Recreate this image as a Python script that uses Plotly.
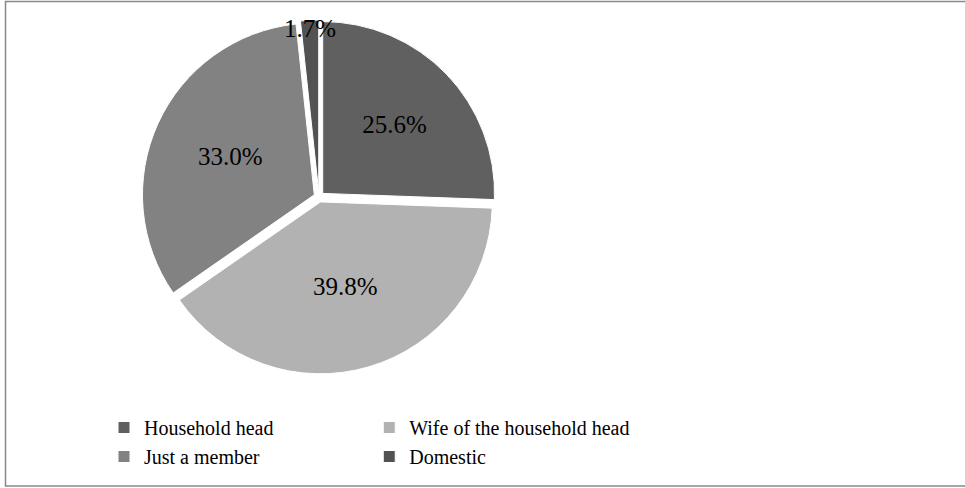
import plotly.graph_objects as go

# Household position of respondents (percent)
labels = ["Household head", "Wife of the household head", "Just a member", "Domestic"]
values = [25.6, 39.8, 33.0, 1.7]
colors = ["#606060", "#b2b2b2", "#828282", "#525252"]

W, H = 965, 488
# plot area is kept narrow so the horizontal legend wraps after two entries
PW = 600
SERIF = "Times New Roman, Liberation Serif, DejaVu Serif, serif"


def px_x(v):
    return v / PW


def px_y(v):
    return 1 - v / H


fig = go.Figure(
    go.Pie(
        labels=labels,
        values=values,
        sort=False,
        direction="clockwise",
        rotation=0,
        pull=[0.03, 0.03, 0.03, 0.03],
        marker=dict(colors=colors, line=dict(color="white", width=1)),
        texttemplate="%{value:.1f}%",
        textposition="inside",
        insidetextorientation="horizontal",
        textfont=dict(family=SERIF, size=25, color="black"),
        hoverinfo="label+percent",
        domain=dict(x=[px_x(142), px_x(496)], y=[px_y(374), px_y(20)]),
    )
)

fig.update_layout(
    width=W,
    height=H,
    margin=dict(l=0, r=W - PW, t=0, b=0, autoexpand=False),
    paper_bgcolor="white",
    plot_bgcolor="white",
    font=dict(family=SERIF, size=20, color="black"),
    # every slice label keeps the same size, even the one too big for its slice
    uniformtext=dict(minsize=25, mode="show"),
    showlegend=True,
    legend=dict(
        orientation="h",
        x=px_x(104),
        xanchor="left",
        y=px_y(408),
        yanchor="top",
        traceorder="normal",
        font=dict(family=SERIF, size=20, color="black"),
        bgcolor="rgba(0,0,0,0)",
        borderwidth=0,
    ),
    shapes=[
        dict(
            type="rect",
            xref="paper",
            yref="paper",
            x0=px_x(5.5),
            x1=px_x(975),
            y0=px_y(486),
            y1=px_y(1.5),
            line=dict(color="#888888", width=1.5),
            fillcolor="rgba(0,0,0,0)",
            layer="below",
        )
    ],
)

fig.write_html("out.html")
